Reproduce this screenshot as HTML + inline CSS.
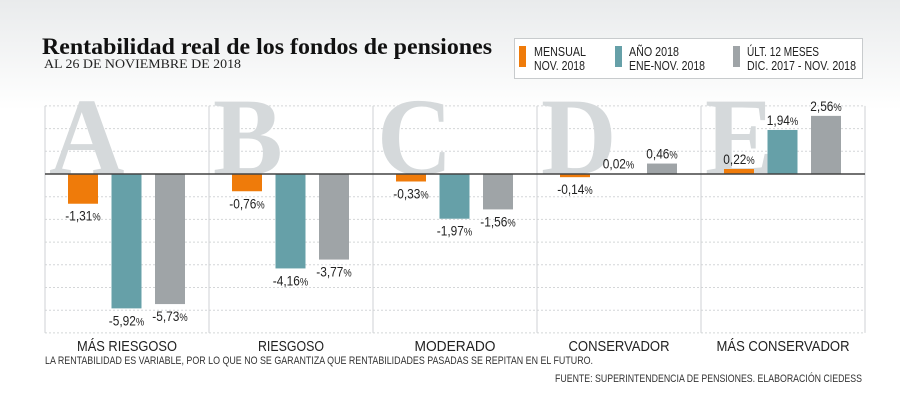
<!DOCTYPE html>
<html><head><meta charset="utf-8"><style>
body{margin:0;width:900px;height:420px;overflow:hidden;background:#fff;}
svg{display:block}
</style></head><body>
<svg id="chart" width="900" height="420" viewBox="0 0 900 420" xmlns="http://www.w3.org/2000/svg">
<defs><linearGradient id="hdr" x1="0" y1="0" x2="0" y2="1"><stop offset="0" stop-color="#e9ebec"/><stop offset="1" stop-color="#ffffff"/></linearGradient></defs>
<rect x="0" y="0" width="900" height="110" fill="url(#hdr)"/>
<text x="42" y="54" textLength="450" lengthAdjust="spacingAndGlyphs" font-family="Liberation Serif, serif" font-weight="bold" font-size="23" fill="#111">Rentabilidad real de los fondos de pensiones</text>
<text x="44" y="68" textLength="197" lengthAdjust="spacingAndGlyphs" font-family="Liberation Serif, serif" font-size="13" fill="#222">AL 26 DE NOVIEMBRE DE 2018</text>
<g>
<rect x="514.5" y="38.5" width="348" height="40" fill="#fff" stroke="#c8cbcd"/>
<g font-family="Liberation Sans, sans-serif" font-size="12.5" fill="#222" lengthAdjust="spacingAndGlyphs">
<rect x="519" y="46" width="7" height="21" fill="#ef7b0a"/>
<text x="534" y="56" textLength="52" lengthAdjust="spacingAndGlyphs">MENSUAL</text><text x="534" y="70" textLength="51" lengthAdjust="spacingAndGlyphs">NOV. 2018</text>
<rect x="615" y="46" width="7" height="21" fill="#66a0a8"/>
<text x="629" y="56" textLength="50" lengthAdjust="spacingAndGlyphs">AÑO 2018</text><text x="629" y="70" textLength="76" lengthAdjust="spacingAndGlyphs">ENE-NOV. 2018</text>
<rect x="733" y="46" width="7" height="21" fill="#9fa4a7"/>
<text x="747" y="56" textLength="72" lengthAdjust="spacingAndGlyphs">ÚLT. 12 MESES</text><text x="747" y="70" textLength="109" lengthAdjust="spacingAndGlyphs">DIC. 2017 - NOV. 2018</text>
</g></g>
<g id="plot"></g>
<text x="45" y="364" textLength="548" lengthAdjust="spacingAndGlyphs" font-family="Liberation Sans, sans-serif" font-size="11" fill="#333">LA RENTABILIDAD ES VARIABLE, POR LO QUE NO SE GARANTIZA QUE RENTABILIDADES PASADAS SE REPITAN EN EL FUTURO.</text>
<text x="555" y="382" textLength="307" lengthAdjust="spacingAndGlyphs" font-family="Liberation Sans, sans-serif" font-size="11" fill="#333">FUENTE: SUPERINTENDENCIA DE PENSIONES. ELABORACIÓN CIEDESS</text>
</svg>
<script>
const funds = ["A","B","C","D","E"];
const categories = ["MÁS RIESGOSO","RIESGOSO","MODERADO","CONSERVADOR","MÁS CONSERVADOR"];
const mensual = [-1.31,-0.76,-0.33,-0.14,0.22];
const ano2018 = [-5.92,-4.16,-1.97,0.02,1.94];
const ult12 = [-5.73,-3.77,-1.56,0.46,2.56];
const gridTicks = [3,2,1,0,-1,-2,-3,-4,-5,-6,-7];

const NS="http://www.w3.org/2000/svg";
const plot=document.getElementById('plot');
const left=45,right=865,base=174,unit=22.7;
const gw=(right-left)/funds.length;
const y=v=>base-v*unit;
const gx=i=>left+i*gw;
function mk(tag,attrs,parent){const e=document.createElementNS(NS,tag);for(const k in attrs)e.setAttribute(k,attrs[k]);(parent||plot).appendChild(e);return e;}

gridTicks.forEach(t=>{
  if(t===0)return;
  const l=mk('line',{x1:left,x2:right,y1:y(t),y2:y(t),stroke:'#d4d6d8','stroke-dasharray':'2,2'});
  
  
});
for(let i=0;i<=funds.length;i++){
  const l=mk('line',{x1:gx(i),x2:gx(i),y1:y(3),y2:y(-7),stroke:'#cfd2d4'});
  
  
}
funds.forEach((f,i)=>{
  const t=mk('text',{x:0,y:0,transform:'translate('+(gx(i)+4)+','+base+') scale(0.95,1)','font-family':'Liberation Serif, serif','font-weight':'bold','font-size':'110',fill:'#d5d9db'});
  t.textContent=f;
  
  
});
const series=[[mensual,'#ef7b0a','mensual'],[ano2018,'#66a0a8','ano-2018'],[ult12,'#9fa4a7','ult-12-meses']];
const catWidths=[100,66,81,101,133];
funds.forEach((f,i)=>{
  series.forEach(([vals,col,nm],s)=>{
    const v=vals[i];
    const bx=gx(i)+23+s*43.5,bw=30;
    const top=Math.min(y(v),base),h=Math.abs(y(v)-base);
    const r=mk('rect',{x:bx,y:top,width:bw,height:Math.max(h,0.8),fill:col});
    
    
    const ly=v<0?y(v)+17:y(v)-5;
    const t=mk('text',{x:0,y:0,transform:'translate('+(bx+bw/2)+','+ly+') scale(0.85,1)','text-anchor':'middle','font-family':'Liberation Sans, sans-serif','font-size':'14',fill:'#222'});
    t.innerHTML=v.toFixed(2).replace('.',',')+'<tspan font-size="11">%</tspan>';
    
    
  });
  const c=mk('text',{x:gx(i)+gw/2-catWidths[i]/2,y:351,textLength:catWidths[i],lengthAdjust:'spacingAndGlyphs','font-family':'Liberation Sans, sans-serif','font-size':'15',fill:'#222'});
  c.textContent=categories[i];
  
  
});
const z=mk('line',{x1:left,x2:right,y1:base,y2:base,stroke:'#444','stroke-width':1.5});


</script>
</body></html>
